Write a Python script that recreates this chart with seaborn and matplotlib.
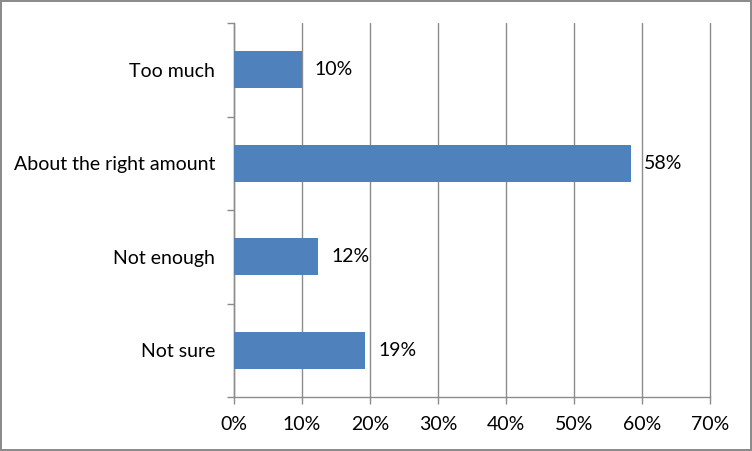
import matplotlib
import matplotlib.pyplot as plt
import pandas as pd
import seaborn as sns
from matplotlib.ticker import FixedLocator, PercentFormatter

categories = ["Too much", "About the right amount", "Not enough", "Not sure"]
values = [10.0, 58.4, 12.4, 19.3]
labels = ["10%", "58%", "12%", "19%"]

sns.set_style("white")
matplotlib.rcParams["font.family"] = ["Lato", "DejaVu Sans"]
matplotlib.rcParams["font.size"] = 14

data = pd.DataFrame({"category": categories, "value": values})

fig = plt.figure(figsize=(7.52, 4.51), dpi=100, linewidth=1.5, edgecolor="#8c8c8c")
ax = fig.add_axes([234 / 752, 54 / 451, 476 / 752, 374 / 451])
sns.barplot(data, x="value", y="category", order=categories, color="#4f81bd",
            saturation=1, width=0.4, linewidth=0, ax=ax, zorder=3)

ax.set_xlim(0, 70)
ax.set_ylim(3.5, -0.5)
ax.set_xticks(range(0, 71, 10))
ax.xaxis.set_major_formatter(PercentFormatter(decimals=0))
ax.grid(axis="x", color="#8c8c8c", linewidth=1, zorder=0)
for gl in ax.get_xgridlines():
    gl.set_clip_on(False)
ax.set(xlabel="", ylabel="")

for s in ["top", "right"]:
    ax.spines[s].set_visible(False)
for s in ["left", "bottom"]:
    ax.spines[s].set_color("#8c8c8c")
    ax.spines[s].set_linewidth(1)

ax.yaxis.set_minor_locator(FixedLocator([-0.5, 0.5, 1.5, 2.5, 3.5]))
ax.tick_params(axis="y", which="major", length=0, pad=13.5)
ax.tick_params(axis="y", which="minor", length=5, color="#8c8c8c", width=1, left=True)
ax.tick_params(axis="x", length=5, color="#8c8c8c", width=1, bottom=True, pad=9)
ax.tick_params(labelsize=14, labelcolor="black")

for i, (v, t) in enumerate(zip(values, labels)):
    ax.text(v + 1.9, i, t, va="center", ha="left", fontsize=14, color="black")

fig.savefig("out.png", dpi=100, edgecolor=fig.get_edgecolor())
